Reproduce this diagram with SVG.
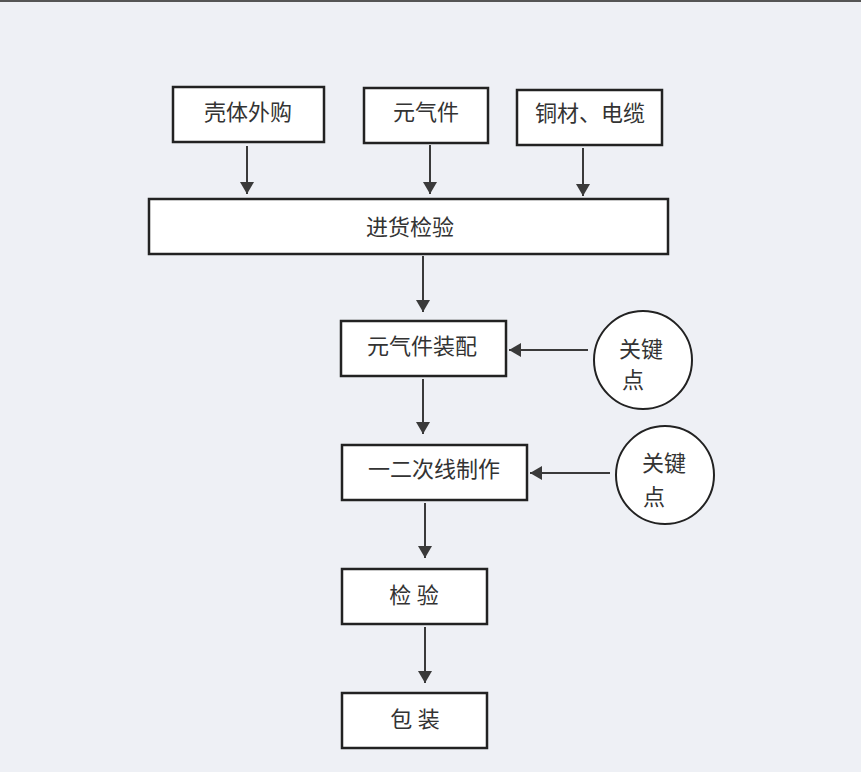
<svg xmlns="http://www.w3.org/2000/svg" width="861" height="772" viewBox="0 0 861 772">
<defs>
<marker id="ah" viewBox="0 0 12 14" refX="12" refY="7" markerWidth="12" markerHeight="14" markerUnits="userSpaceOnUse" orient="auto">
<path d="M0,0 L12,7 L0,14 Z" fill="#3a3a3a"/>
</marker>
</defs>
<style>
.box{fill:#ffffff;stroke:#222;stroke-width:2.5}
.circ{fill:#ffffff;stroke:#222;stroke-width:2}
.t{font-family:"Liberation Serif","Noto Sans CJK SC",serif;font-size:22px;fill:#333;text-anchor:middle;dominant-baseline:central}
.c{stroke:#3a3a3a;stroke-width:2;fill:none;marker-end:url(#ah)}
</style>
<rect x="0" y="0" width="861" height="772" fill="#eef0f5"/>
<rect x="0" y="0" width="861" height="2" fill="#555"/>
<g id="n1"><rect class="box" x="173" y="87" width="151" height="55"/><text class="t" x="248" y="112">壳体外购</text></g>
<g id="n2"><rect class="box" x="364" y="88" width="124" height="55"/><text class="t" x="426" y="112">元气件</text></g>
<g id="n3"><rect class="box" x="517" y="90" width="145" height="55"/><text class="t" x="590" y="113">铜材、电缆</text></g>
<g id="n4"><rect class="box" x="149" y="199" width="519" height="55"/><text class="t" x="410" y="227">进货检验</text></g>
<g id="n5"><rect class="box" x="341" y="321" width="165" height="55"/><text class="t" x="422" y="346">元气件装配</text></g>
<g id="n6"><rect class="box" x="342" y="445" width="185" height="55"/><text class="t" x="434" y="469">一二次线制作</text></g>
<g id="n7"><rect class="box" x="342" y="569" width="145" height="55"/><text class="t" x="414" y="595">检 验</text></g>
<g id="n8"><rect class="box" x="342" y="693" width="145" height="55"/><text class="t" x="415" y="719">包 装</text></g>
<g id="k1"><circle class="circ" cx="643" cy="360" r="49"/><text class="t" x="641" y="349">关键</text><text class="t" x="633" y="380">点</text></g>
<g id="k2"><circle class="circ" cx="665" cy="475" r="49"/><text class="t" x="664" y="463">关键</text><text class="t" x="654" y="497">点</text></g>
<g id="connectors">
<line class="c" x1="247" y1="146" x2="247" y2="194"/>
<line class="c" x1="430" y1="145" x2="430" y2="194"/>
<line class="c" x1="583" y1="148" x2="583" y2="196"/>
<line class="c" x1="423" y1="256" x2="423" y2="312"/>
<line class="c" x1="423" y1="379" x2="423" y2="434"/>
<line class="c" x1="425" y1="503" x2="425" y2="558"/>
<line class="c" x1="425" y1="627" x2="425" y2="683"/>
<line class="c" x1="588" y1="350" x2="509" y2="350"/>
<line class="c" x1="610" y1="473" x2="530" y2="473"/>
</g>
</svg>
